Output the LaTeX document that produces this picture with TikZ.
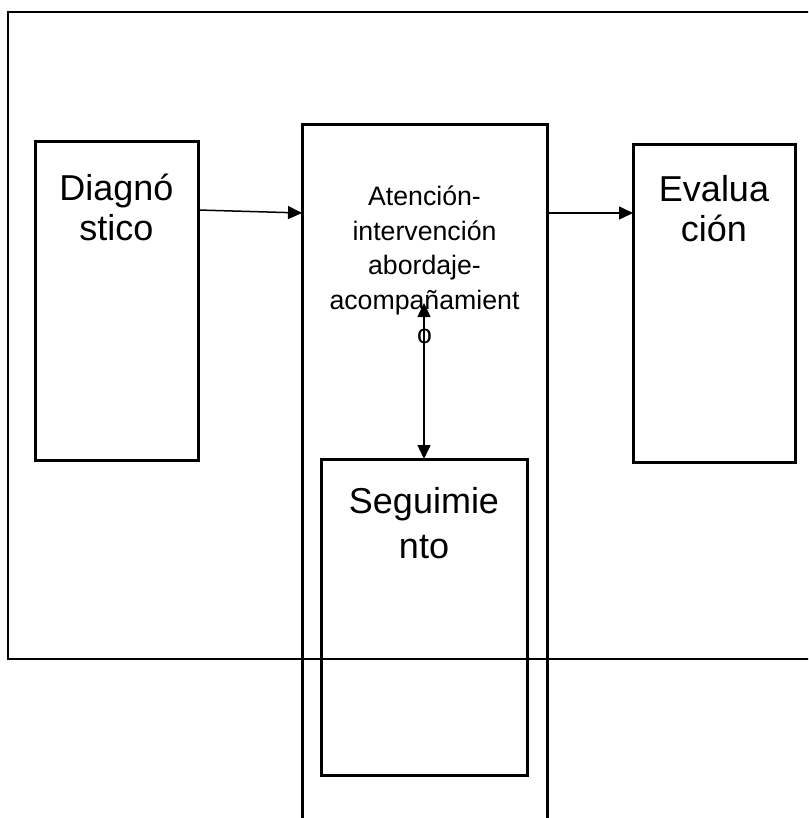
\documentclass[tikz,border=0pt]{standalone}
\usepackage{fontspec}
\setmainfont{Liberation Sans}
\newcommand\bigfont{\fontsize{36}{40}\selectfont}
\newcommand\attfont{\fontsize{26.7}{34.5}\selectfont}
\newcommand\segfont{\fontsize{36}{45}\selectfont}
\usetikzlibrary{calc,arrows.meta}

\begin{document}
\begin{tikzpicture}[x=1pt,y=-1pt,
    box/.style={draw,rectangle,line width=3pt,inner sep=0pt,outer sep=0pt,anchor=north west},
    txt/.style={anchor=north,inner sep=0pt,align=center},
    arr/.style={line width=1.5pt,-{Triangle[length=14pt,width=13pt]}},
    dblarr/.style={line width=1.5pt,{Triangle[length=14pt,width=13pt]}-{Triangle[length=14pt,width=13pt]}}]
  \path[use as bounding box,clip] (0,0) rectangle (808,818);
  \draw[line width=1.5pt] (8,12) rectangle (830,659);
  % boxes
  \node [box,minimum width=163pt,minimum height=318pt,
    label={[txt,yshift=-32pt,font=\bigfont]north:{Diagnó\\stico}}] (diag) at (35,142) {};
  \node [box,minimum width=245pt,minimum height=725pt,
    label={[txt,yshift=-61pt,font=\attfont]north:{Atención-\\intervención\\abordaje-\\acompañamient\\o}}] (att) at (302,125) {};
  \node [box,minimum width=162pt,minimum height=317pt,
    label={[txt,yshift=-30pt,font=\bigfont]north:{Evalua\\ción}}] (eval) at (633,145) {};
  \node [box,minimum width=206pt,minimum height=316pt,
    label={[txt,yshift=-28pt,font=\segfont]north:{Seguimie\\nto}}] (seg) at (321,459) {};
  \coordinate (acomp) at ($(att.north west)+(122,178)$);
  % connectors
  \draw[arr] ($(diag.north east)+(0,68)$) -- ($(att.north west)+(0,88)$);
  \draw[arr] ($(att.north east)+(0,88)$) -- ($(eval.north west)+(0,68)$);
  \draw[dblarr] (seg.north) -- (acomp);
\end{tikzpicture}
\end{document}
